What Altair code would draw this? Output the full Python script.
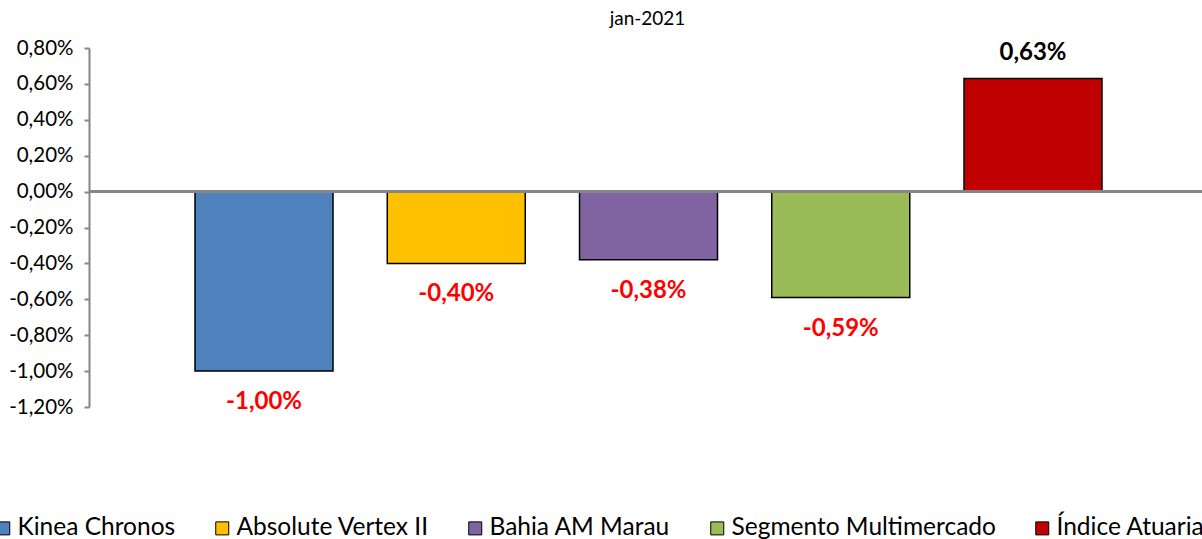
import altair as alt
import pandas as pd

categories = ["Kinea Chronos", "Absolute Vertex II", "Bahia AM Marau", "Segmento Multimercado", "Índice Atuarial"]
values = [-1.00, -0.40, -0.38, -0.59, 0.63]
colors = ["#4F81BD", "#FFC000", "#8064A2", "#9BBB59", "#C00000"]
y_ticks = [-1.2, -1.0, -0.8, -0.6, -0.4, -0.2, 0.0, 0.2, 0.4, 0.6, 0.8]
title_text = "jan-2021"

df = pd.DataFrame({"cat": categories, "val": values})
df["lbl"] = [("-" if v < 0 else "") + f"{abs(v):.2f}".replace(".", ",") + "%" for v in values]

FONT = "Lato"

x_enc = alt.X(
    "cat:N",
    sort=categories,
    axis=None,
    scale=alt.Scale(paddingInner=0.2822, paddingOuter=0.5358, align=0.5146),
)
y_scale = alt.Scale(domain=[-1.2, 0.8], nice=False, zero=False)
y_axis = alt.Axis(
    values=y_ticks,
    labelExpr="(datum.value < -0.0001 ? '-' : '') + replace(format(abs(datum.value), '.2f'), '.', ',') + '%'",
    labelOverlap=False,
    grid=False,
    domainColor="#868686",
    domainWidth=2,
    tickColor="#868686",
    tickWidth=2,
    tickSize=5,
    labelPadding=11,
    labelFont=FONT,
    labelFontSize=20.5,
    labelColor="black",
)


def y_enc():
    return alt.Y("val:Q", scale=y_scale, axis=y_axis, title=None)


bars = alt.Chart(df).mark_bar(stroke="black", strokeWidth=1.5).encode(
    x=x_enc,
    y=y_enc(),
    y2=alt.datum(0),
    fill=alt.Fill(
        "cat:N",
        sort=categories,
        scale=alt.Scale(domain=categories, range=colors),
        legend=alt.Legend(
            title=None,
            orient="none",
            direction="horizontal",
            legendX=-98,
            legendY=468,
            symbolType="square",
            symbolSize=169,
            symbolStrokeColor="black",
            symbolStrokeWidth=1,
            symbolOpacity=1,
            labelFont=FONT,
            labelFontSize=24.5,
            labelColor="black",
            labelOffset=2,
            columnPadding=34,
            padding=0,
            labelLimit=400,
        ),
    ),
)

zero_rule = alt.Chart(df).mark_rule(color="#868686", strokeWidth=2.5).encode(
    y=alt.Y(datum=0, scale=y_scale, axis=y_axis, title=None)
)

neg_labels = alt.Chart(df).transform_filter("datum.val < 0").mark_text(
    font=FONT, fontSize=24, fontWeight="bold", color="#FF0000", baseline="middle", dy=31
).encode(x=x_enc, y=y_enc(), text="lbl:N")

pos_labels = alt.Chart(df).transform_filter("datum.val >= 0").mark_text(
    font=FONT, fontSize=24, fontWeight="bold", color="black", baseline="middle", dy=-26
).encode(x=x_enc, y=y_enc(), text="lbl:N")

chart = alt.layer(bars, zero_rule, neg_labels, pos_labels).properties(
    width=1113,
    height=359,
    background="white",
    title=alt.TitleParams(
        title_text, font=FONT, fontSize=19, fontWeight="normal", color="black",
        anchor="middle", offset=9, dx=2,
    ),
    autosize=alt.AutoSizeParams(type="none"),
    padding={"left": 89, "top": 48, "right": 0, "bottom": 132},
).configure_view(stroke=None).configure_axis(grid=False)

chart.save("out.html", embed_options={"renderer": "svg", "actions": False})
